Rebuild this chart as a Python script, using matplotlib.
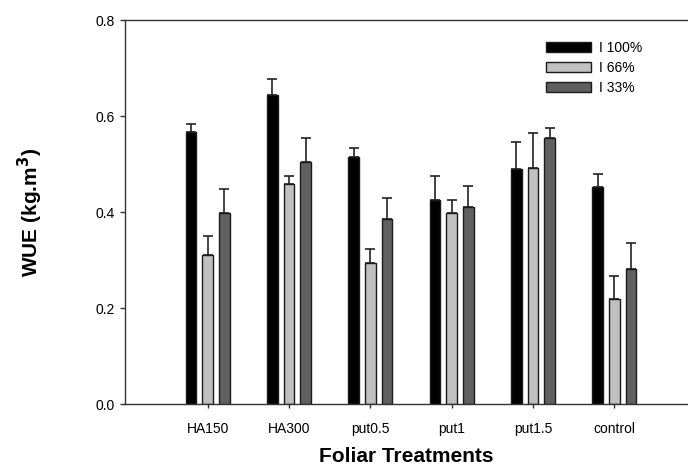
import numpy as np
import matplotlib
matplotlib.use('Agg')
import matplotlib.pyplot as plt

plt.rcParams['font.family'] = ['Liberation Sans', 'DejaVu Sans']

# data
treatments = ['HA150', 'HA300', 'put0.5', 'put1', 'put1.5', 'control']
series_labels = ['I 100%', 'I 66%', 'I 33%']
wue_100 = [0.567, 0.644, 0.514, 0.424, 0.490, 0.452]
wue_66 = [0.310, 0.458, 0.293, 0.397, 0.492, 0.219]
wue_33 = [0.397, 0.505, 0.386, 0.411, 0.555, 0.281]
err_100 = [0.016, 0.033, 0.019, 0.052, 0.055, 0.028]
err_66 = [0.039, 0.018, 0.030, 0.029, 0.072, 0.047]
err_33 = [0.051, 0.050, 0.043, 0.043, 0.021, 0.054]

colors = ['#000000', '#c0c0c0', '#606060']


def main():
    fig = plt.figure(figsize=(6.88, 4.74), dpi=100)
    ax = fig.add_axes([125 / 688, 70 / 474, 1 - 125 / 688, 384 / 474])

    x = np.arange(len(treatments))
    pitch = 0.205
    width = 0.13
    values = [wue_100, wue_66, wue_33]
    errors = [err_100, err_66, err_33]

    for i in range(3):
        pos = x + (i - 1) * pitch
        ax.bar(pos, values[i], width=width, color=colors[i], edgecolor='#1a1a1a',
               linewidth=1.0, label=series_labels[i], zorder=2)
        # only the upper half of the error bar is drawn
        ax.errorbar(pos, values[i], yerr=[np.zeros(len(pos)), errors[i]], fmt='none',
                    ecolor='#222222', elinewidth=1.2, capsize=3.8, capthick=1.2, zorder=1)

    ax.set_ylim(0, 0.8)
    ax.set_xlim(-1.017, 5.906)
    ax.set_yticks([0.0, 0.2, 0.4, 0.6, 0.8])
    ax.set_yticklabels(['0.0', '0.2', '0.4', '0.6', '0.8'])
    ax.set_xticks(x)
    ax.set_xticklabels(treatments)
    ax.tick_params(axis='both', direction='out', labelsize=10, color='#333333',
                   width=1.0, length=3.5, pad=4)
    ax.tick_params(axis='x', length=3, pad=10)

    ax.spines['right'].set_visible(False)
    for s in ['left', 'top', 'bottom']:
        ax.spines[s].set_linewidth(1.0)
        ax.spines[s].set_color('#333333')

    ax.set_xlabel('Foliar Treatments', fontsize=15, fontweight='bold', labelpad=8)
    ax.set_ylabel('WUE (kg.m$^\\mathbf{3}$)', fontsize=15, fontweight='bold', labelpad=36)

    ax.legend(loc='upper left', bbox_to_anchor=(546 / 688, 1 - 41 / 474),
              bbox_transform=fig.transFigure, frameon=False, fontsize=10,
              handlelength=3.24, handleheight=0.79, labelspacing=0.42,
              handletextpad=0.6, borderpad=0, borderaxespad=0)

    fig.savefig('out.png', dpi=100)
    plt.close()


if __name__ == '__main__':
    main()
